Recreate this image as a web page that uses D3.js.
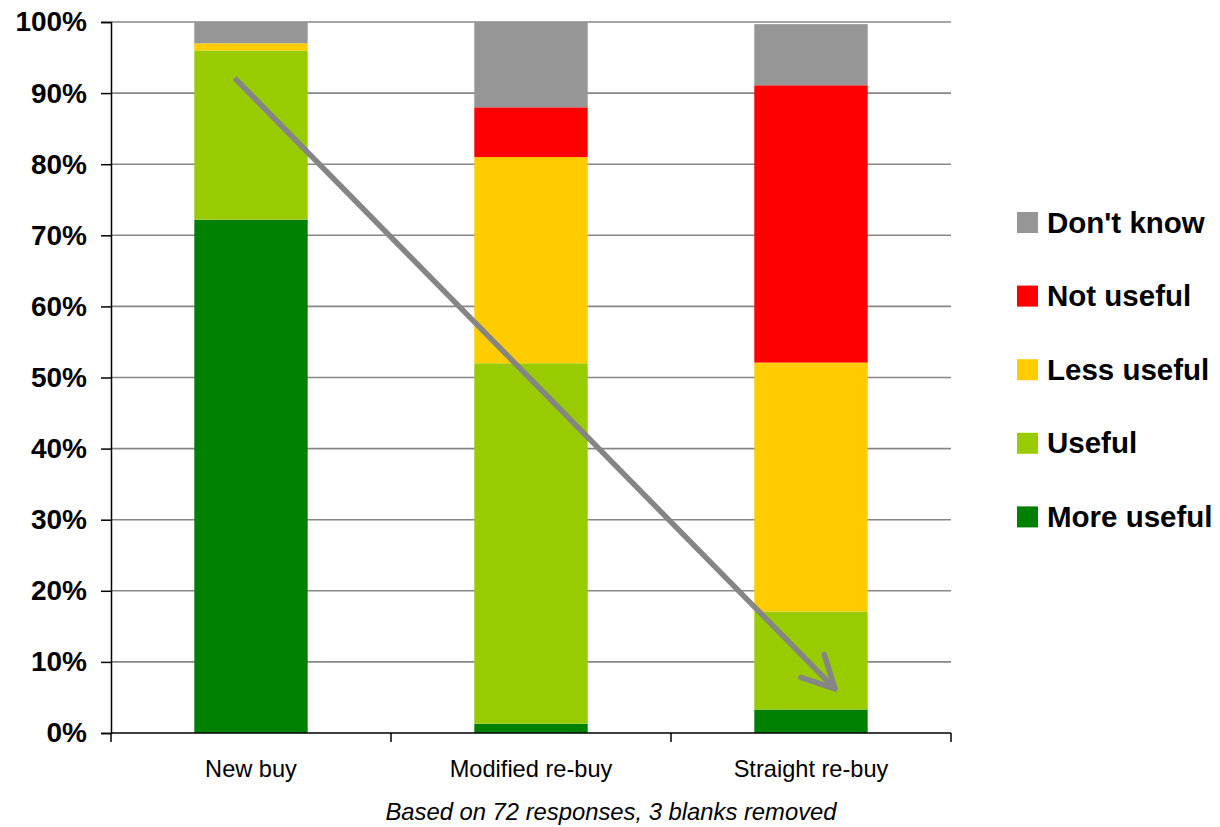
<!DOCTYPE html>
<html>
<head>
<meta charset="utf-8">
<script src="https://cdn.jsdelivr.net/npm/d3@7"></script>
<style>
  html, body { margin: 0; padding: 0; background: #fff; }
  svg { display: block; font-family: "Liberation Sans", Arial, sans-serif; }
</style>
</head>
<body>
<svg id="chart" width="1220" height="827"></svg>
<script>
// Buying situations along the x axis
const categories = ["New buy", "Modified re-buy", "Straight re-buy"];

// Share of answers (%) for each rating, in stacking order (bottom to top)
const seriesNames = ["More useful", "Useful", "Less useful", "Not useful", "Don't know"];
const moreUseful = [72.2, 1.3, 3.3];
const useful     = [23.8, 50.7, 13.8];
const lessUseful = [1.0, 29.0, 35.0];
const notUseful  = [0.0, 7.0, 39.0];
const dontKnow   = [3.0, 12.0, 8.6];
const seriesColors = ["#008000", "#99cc00", "#ffcc00", "#ff0000", "#969696"];

const yTicks = [0, 10, 20, 30, 40, 50, 60, 70, 80, 90, 100];
const footnote = "Based on 72 responses, 3 blanks removed";

// Trend arrow, anchored to categories and values
const arrowFrom = { cat: "New buy", offset: -0.058, value: 92.1 };
const arrowTo   = { cat: "Straight re-buy", offset: 0.086, value: 6.2 };

const svg = d3.select("#chart");
const plot = { left: 111, top: 22, width: 840, height: 711 };

const x = d3.scaleBand().domain(categories).range([plot.left, plot.left + plot.width]).paddingInner(0).paddingOuter(0);
const y = d3.scaleLinear().domain([0, 100]).range([plot.top + plot.height, plot.top]);
const barWidth = x.bandwidth() * 0.405;

// Gridlines
svg.append("g").selectAll("line").data(yTicks.filter(d => d > 0)).join("line")
  .attr("x1", plot.left).attr("x2", plot.left + plot.width)
  .attr("y1", d => y(d)).attr("y2", d => y(d))
  .attr("stroke", "#878787").attr("stroke-width", 1.6);

// Stacked bars
const rows = categories.map((c, i) => ({
  cat: c,
  "More useful": moreUseful[i],
  "Useful": useful[i],
  "Less useful": lessUseful[i],
  "Not useful": notUseful[i],
  "Don't know": dontKnow[i]
}));
const stacked = d3.stack().keys(seriesNames)(rows);
const color = d3.scaleOrdinal().domain(seriesNames).range(seriesColors);

svg.append("g").selectAll("g").data(stacked).join("g")
  .attr("fill", d => color(d.key))
  .selectAll("rect").data(d => d).join("rect")
  .attr("x", d => x(d.data.cat) + x.bandwidth() / 2 - barWidth / 2)
  .attr("width", barWidth)
  .attr("y", d => y(d[1]))
  .attr("height", d => Math.max(0, y(d[0]) - y(d[1])));

// Y axis
const yAxis = svg.append("g").attr("transform", `translate(${plot.left},0)`)
  .call(d3.axisLeft(y).tickValues(yTicks).tickFormat(d => d + "%").tickSize(10).tickPadding(14));
yAxis.select(".domain").attr("stroke", "#000").attr("stroke-width", 1.5);
yAxis.selectAll(".tick line").attr("stroke", "#000").attr("stroke-width", 1.5);
yAxis.selectAll(".tick text").attr("font-size", 28).attr("font-weight", "bold").attr("fill", "#000")
  .attr("font-family", "'Liberation Sans', Arial, sans-serif");

// X axis with ticks at category boundaries
const xAxisG = svg.append("g").attr("transform", `translate(0,${plot.top + plot.height})`);
xAxisG.append("line").attr("x1", plot.left).attr("x2", plot.left + plot.width)
  .attr("stroke", "#000").attr("stroke-width", 1.5);
const boundaries = categories.map(c => x(c)).concat([x(categories[categories.length - 1]) + x.bandwidth()]);
xAxisG.selectAll("line.tk").data(boundaries).join("line").attr("class", "tk")
  .attr("x1", d => d).attr("x2", d => d).attr("y1", 0).attr("y2", 9)
  .attr("stroke", "#000").attr("stroke-width", 1.5);
xAxisG.selectAll("text").data(categories).join("text")
  .attr("x", d => x(d) + x.bandwidth() / 2).attr("y", 44)
  .attr("text-anchor", "middle").attr("font-size", 23.6).attr("fill", "#000").text(d => d);

// Footnote
svg.append("text").attr("x", 611).attr("y", 820)
  .attr("text-anchor", "middle").attr("font-size", 23.8).attr("font-style", "italic")
  .attr("fill", "#000").text(footnote);

// Trend arrow
const ax = p => x(p.cat) + x.bandwidth() / 2 + p.offset * x.bandwidth();
const x1 = ax(arrowFrom), y1 = y(arrowFrom.value), x2 = ax(arrowTo), y2 = y(arrowTo.value);
const ang = Math.atan2(y2 - y1, x2 - x1);
const headLen = 36, headAng = 0.47;
const arrow = svg.append("g").attr("stroke", "#858585").attr("stroke-width", 5.5)
  .attr("stroke-linecap", "round").attr("stroke-linejoin", "round").attr("fill", "none");
arrow.append("line").attr("x1", x1).attr("y1", y1).attr("x2", x2).attr("y2", y2).attr("stroke-linecap", "butt");
arrow.append("path").attr("d", d3.line()([
  [x2 - headLen * Math.cos(ang - headAng), y2 - headLen * Math.sin(ang - headAng)],
  [x2, y2],
  [x2 - headLen * Math.cos(ang + headAng), y2 - headLen * Math.sin(ang + headAng)]
]));

// Legend (top entry is the top of the stack)
const legendItems = seriesNames.slice().reverse();
const legend = svg.append("g").selectAll("g").data(legendItems).join("g")
  .attr("transform", (d, i) => `translate(1017,${222.5 + i * 73.6})`);
legend.append("rect").attr("x", 0).attr("y", -10.5).attr("width", 21).attr("height", 21).attr("fill", d => color(d));
legend.append("text").attr("x", 30).attr("y", 10).attr("font-size", 29.5).attr("font-weight", "bold")
  .attr("fill", "#000").text(d => d);
</script>
</body>
</html>
